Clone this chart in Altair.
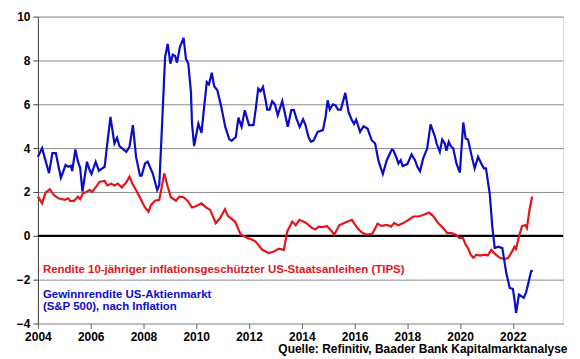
import altair as alt
import pandas as pd

# Gewinnrendite US-Aktienmarkt (S&P 500), nach Inflation
blue_years = [2004.00, 2004.16, 2004.42, 2004.55, 2004.68, 2004.87, 2005.05, 2005.15, 2005.25, 2005.30,
              2005.42, 2005.52, 2005.60, 2005.69, 2005.86, 2005.96, 2006.03, 2006.19, 2006.31, 2006.53,
              2006.60, 2006.75, 2006.90, 2007.00, 2007.09, 2007.35, 2007.47, 2007.60, 2007.72, 2007.87,
              2007.93, 2008.06, 2008.16, 2008.35, 2008.52, 2008.60, 2008.73, 2008.82, 2008.92, 2009.02,
              2009.11, 2009.20, 2009.27, 2009.38, 2009.52, 2009.61, 2009.70, 2009.80, 2009.84, 2009.92,
              2010.08, 2010.20, 2010.30, 2010.40, 2010.48, 2010.59, 2010.68, 2010.80, 2010.95, 2011.10,
              2011.25, 2011.34, 2011.50, 2011.60, 2011.72, 2011.84, 2012.00, 2012.17, 2012.25, 2012.35,
              2012.44, 2012.53, 2012.63, 2012.69, 2012.78, 2012.88, 2012.98, 2013.09, 2013.26, 2013.36,
              2013.47, 2013.60, 2013.70, 2013.80, 2013.92, 2014.05, 2014.14, 2014.26, 2014.35, 2014.45,
              2014.60, 2014.80, 2014.90, 2014.98, 2015.06, 2015.18, 2015.28, 2015.37, 2015.48, 2015.65,
              2015.77, 2015.90, 2015.98, 2016.06, 2016.21, 2016.34, 2016.49, 2016.65, 2016.78, 2016.90,
              2017.07, 2017.22, 2017.41, 2017.47, 2017.60, 2017.66, 2017.75, 2017.82, 2018.00, 2018.16,
              2018.29, 2018.38, 2018.48, 2018.60, 2018.75, 2018.88, 2019.04, 2019.11, 2019.23, 2019.32,
              2019.42, 2019.48, 2019.57, 2019.64, 2019.74, 2019.86, 2019.99, 2020.12, 2020.21, 2020.30,
              2020.43, 2020.55, 2020.68, 2020.80, 2020.90, 2020.98, 2021.12, 2021.22, 2021.31, 2021.45,
              2021.60, 2021.65, 2021.75, 2021.88, 2022.00, 2022.06, 2022.12, 2022.23, 2022.32, 2022.41,
              2022.50, 2022.60, 2022.69, 2022.75]
blue_vals = [3.60, 4.00, 2.86, 3.77, 3.77, 2.65, 3.23, 3.15, 3.20, 2.95,
             3.94, 3.38, 3.10, 2.02, 3.38, 3.00, 2.82, 3.38, 2.97, 3.15,
             3.90, 5.42, 4.21, 4.47, 4.09, 3.83, 4.06, 5.05, 3.60, 2.74,
             2.74, 3.30, 3.38, 2.85, 2.09, 2.32, 5.73, 8.15, 8.76, 7.85,
             8.26, 8.20, 7.90, 8.60, 9.03, 8.08, 7.85, 6.56, 5.12, 4.09,
             5.12, 4.70, 5.88, 7.01, 6.90, 7.44, 6.82, 6.64, 5.88, 4.97,
             4.41, 4.33, 4.51, 5.39, 4.97, 5.73, 5.05, 5.05, 5.73, 6.71,
             6.60, 6.79, 6.18, 5.76, 5.76, 6.14, 6.00, 5.50, 6.15, 5.58,
             4.97, 5.73, 5.73, 5.35, 4.97, 5.32, 5.05, 4.48, 4.29, 4.35,
             4.74, 4.82, 5.42, 6.18, 5.76, 6.00, 5.95, 5.76, 5.76, 6.52,
             5.65, 5.27, 5.10, 5.30, 4.74, 5.00, 4.89, 4.36, 4.21, 3.45,
             2.82, 3.45, 3.94, 3.90, 3.53, 3.30, 3.45, 3.18, 3.27, 3.71,
             3.45, 3.15, 2.95, 3.53, 3.98, 5.08, 4.55, 4.21, 3.83, 4.39,
             4.21, 3.88, 4.29, 4.10, 3.98, 3.30, 2.88, 5.17, 4.44, 4.39,
             3.68, 3.08, 3.60, 3.30, 3.08, 3.08, 1.94, 0.42, -0.56, -0.50,
             -0.56, -0.94, -1.70, -2.38, -2.42, -2.90, -3.52, -2.68, -2.75, -2.83,
             -2.58, -2.08, -1.62, -1.58]

# Rendite 10-jähriger inflationsgeschützter US-Staatsanleihen (TIPS)
red_years = [2004.00, 2004.16, 2004.29, 2004.45, 2004.60, 2004.77, 2005.02, 2005.15, 2005.22, 2005.37,
             2005.52, 2005.60, 2005.71, 2005.83, 2005.96, 2006.05, 2006.21, 2006.34, 2006.53, 2006.63,
             2006.78, 2006.90, 2007.03, 2007.18, 2007.34, 2007.47, 2007.58, 2007.75, 2007.91, 2008.04,
             2008.19, 2008.29, 2008.44, 2008.60, 2008.79, 2008.92, 2009.04, 2009.23, 2009.36, 2009.52,
             2009.67, 2009.84, 2010.00, 2010.20, 2010.37, 2010.53, 2010.63, 2010.74, 2010.90, 2011.09,
             2011.20, 2011.47, 2011.69, 2011.94, 2012.07, 2012.25, 2012.50, 2012.75, 2012.94, 2013.13,
             2013.32, 2013.45, 2013.64, 2013.77, 2013.91, 2014.15, 2014.39, 2014.52, 2014.64, 2014.80,
             2014.95, 2015.14, 2015.23, 2015.42, 2015.65, 2015.90, 2016.10, 2016.28, 2016.47, 2016.68,
             2016.87, 2017.03, 2017.22, 2017.38, 2017.50, 2017.66, 2017.85, 2018.04, 2018.23, 2018.42,
             2018.60, 2018.82, 2018.98, 2019.17, 2019.36, 2019.51, 2019.68, 2019.84, 2019.97, 2020.11,
             2020.21, 2020.30, 2020.40, 2020.50, 2020.62, 2020.75, 2020.93, 2021.05, 2021.18, 2021.30,
             2021.50, 2021.69, 2021.82, 2021.97, 2022.06, 2022.12, 2022.23, 2022.35, 2022.47, 2022.53,
             2022.63, 2022.73]
red_vals = [1.79, 1.48, 1.97, 2.12, 1.87, 1.71, 1.64, 1.71, 1.59, 1.59,
            1.79, 1.67, 1.94, 2.00, 2.09, 2.00, 2.24, 2.47, 2.50, 2.30,
            2.38, 2.30, 2.38, 2.21, 2.42, 2.70, 2.39, 2.02, 1.64, 1.33,
            1.10, 1.41, 1.60, 1.64, 2.85, 2.24, 1.76, 1.60, 1.79, 1.76,
            1.60, 1.29, 1.36, 1.48, 1.30, 1.18, 0.90, 0.58, 0.80, 1.21,
            0.91, 0.65, 0.05, -0.10, -0.15, -0.26, -0.64, -0.79, -0.72, -0.59,
            -0.64, 0.20, 0.65, 0.48, 0.73, 0.60, 0.35, 0.30, 0.42, 0.40,
            0.45, 0.20, 0.05, 0.48, 0.61, 0.73, 0.36, 0.15, 0.05, 0.10,
            0.55, 0.45, 0.50, 0.42, 0.58, 0.48, 0.58, 0.73, 0.88, 0.88,
            0.95, 1.06, 0.90, 0.58, 0.35, 0.12, 0.12, 0.05, -0.10, -0.10,
            -0.41, -0.56, -0.86, -1.00, -0.86, -0.90, -0.86, -0.90, -0.64, -0.80,
            -1.00, -1.06, -1.02, -0.71, -0.50, -0.60, -0.03, 0.45, 0.48, 0.35,
            1.18, 1.79]

x_ticks = [2004, 2006, 2008, 2010, 2012, 2014, 2016, 2018, 2020, 2022]
y_ticks = [-4, -2, 0, 2, 4, 6, 8, 10]

label_red = "Rendite 10-jähriger inflationsgeschützter US-Staatsanleihen (TIPS)"
label_blue_1 = "Gewinnrendite US-Aktienmarkt"
label_blue_2 = "(S&P 500), nach Inflation"
source = "Quelle: Refinitiv, Baader Bank Kapitalmarktanalyse"

BLUE = "#0C0CC8"
RED = "#E3151B"
FONT = "Liberation Sans"

blue_df = pd.DataFrame({"year": blue_years, "value": blue_vals})
red_df = pd.DataFrame({"year": red_years, "value": red_vals})

x_scale = alt.Scale(domain=[2004, 2023.9], nice=False, zero=False)
y_scale = alt.Scale(domain=[-4, 10], nice=False, zero=False)

x_axis = alt.Axis(values=x_ticks, format="d", title=None, grid=False, labelFont=FONT,
                  labelFontSize=12, labelFontWeight="bold", labelColor="black", labelFlush=False,
                  domain=False, tickColor="#606060", tickSize=5, labelPadding=3)
y_axis = alt.Axis(values=y_ticks, title=None, grid=True, gridColor="#8c8c8c", gridWidth=1,
                  labelFont=FONT, labelFontSize=12, labelFontWeight="bold", labelColor="black",
                  domainColor="#404040", tickColor="#404040", tickSize=5, labelPadding=3)


def X(field="year:Q"):
    return alt.X(field, scale=x_scale, axis=x_axis)


def Y(field="value:Q"):
    return alt.Y(field, scale=y_scale, axis=y_axis)


blue_line = alt.Chart(blue_df).mark_line(color=BLUE, strokeWidth=2.2).encode(x=X(), y=Y())
red_line = alt.Chart(red_df).mark_line(color=RED, strokeWidth=2.2).encode(x=X(), y=Y())

zero_df = pd.DataFrame({"year": [2004, 2023.9], "value": [0, 0]})
zero = alt.Chart(zero_df).mark_line(color="black", strokeWidth=2.2).encode(x=X(), y=Y())

ann_df = pd.DataFrame({
    "t": [label_red, label_blue_1, label_blue_2],
    "year": [2004.19, 2004.19, 2004.19],
    "value": [-1.55, -2.68, -3.23],
    "c": ["red", "blue", "blue"],
})
ann = alt.Chart(ann_df).mark_text(
    align="left", baseline="middle", font=FONT, fontSize=11.5, fontWeight="bold"
).encode(
    x=X(), y=Y(), text="t:N",
    color=alt.Color("c:N", scale=alt.Scale(domain=["red", "blue"], range=[RED, BLUE]), legend=None),
)

chart = alt.layer(zero, red_line, blue_line, ann).properties(
    width=527, height=308,
    title=alt.TitleParams(source, orient="bottom", anchor="end", font=FONT, fontSize=12,
                          fontWeight="bold", color="black", offset=2),
    padding={"left": 8, "top": 2, "right": 4, "bottom": 0},
).configure_view(stroke="#8c8c8c", strokeWidth=1).configure(background="white")

chart.save("out.html", embed_options={"renderer": "svg", "actions": False})
